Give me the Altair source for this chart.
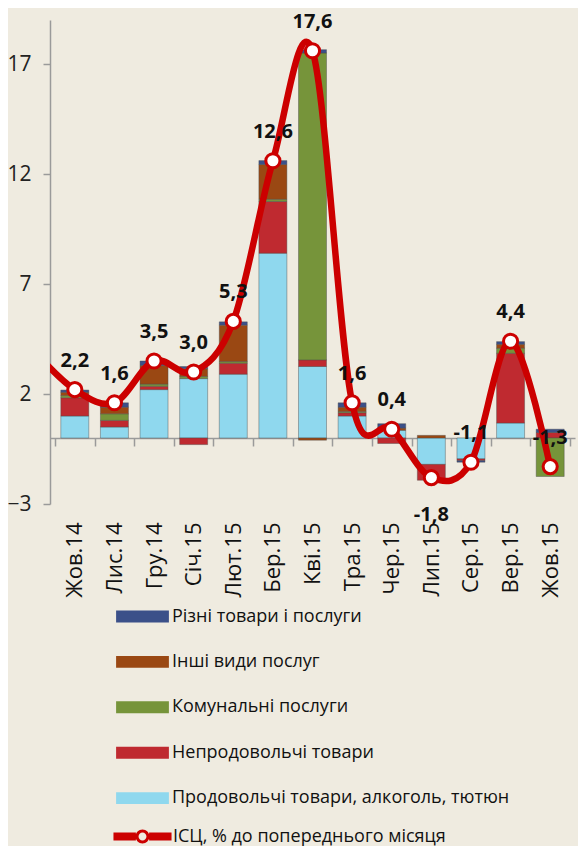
import json
import altair as alt
import pandas as pd

# ---------------- data ----------------
months = ["Жов.14", "Лис.14", "Гру.14", "Січ.15", "Лют.15", "Бер.15", "Кві.15",
          "Тра.15", "Чер.15", "Лип.15", "Сер.15", "Вер.15", "Жов.15"]

series = ["Різні товари і послуги", "Інші види послуг", "Комунальні послуги",
          "Непродовольчі товари", "Продовольчі товари, алкоголь, тютюн"]
colors = ["#3B5089", "#9A4813", "#76943A", "#BF2A30", "#8FD8EE"]

food    = [1.00, 0.50, 2.20, 2.70, 2.90, 8.40, 3.25, 1.00, 0.35, -1.20, -0.95, 0.68, 0.00]
nonfood = [0.83, 0.30, 0.15, -0.30, 0.50, 2.35, 0.30, 0.15, -0.25, -0.72, -0.08, 3.17, 0.25]
utility = [0.10, 0.30, 0.10, 0.10, 0.08, 0.10, 13.95, 0.05, 0.00, 0.00, 0.00, 0.23, -1.75]
other   = [0.15, 0.30, 0.85, 0.35, 1.65, 1.58, -0.10, 0.20, 0.10, 0.12, 0.00, 0.18, 0.00]
misc    = [0.10, 0.20, 0.20, 0.10, 0.15, 0.18, 0.15, 0.20, 0.20, 0.00, -0.07, 0.12, 0.15]

cpi = [2.2, 1.6, 3.5, 3.0, 5.3, 12.6, 17.6, 1.6, 0.4, -1.8, -1.1, 4.4, -1.3]
cpi_labels = ["2,2", "1,6", "3,5", "3,0", "5,3", "12,6", "17,6", "1,6", "0,4", "-1,8", "-1,1", "4,4", "-1,3"]
label_side = ["above"] * 9 + ["below"] + ["above"] * 3
cpi_prev = 3.9          # month before the first one, only its line segment shows
cpi_name = "ІСЦ, % до попереднього місяця"

# ---------------- tables ----------------
stack_vals = [food, nonfood, utility, other, misc]
stack_names = [series[4], series[3], series[2], series[1], series[0]]
rows = []
for order, (name, vals) in enumerate(zip(stack_names, stack_vals)):
    for i, v in enumerate(vals):
        if v != 0:
            rows.append({"idx": i, "series": name, "value": v, "ord": order})
bars_df = pd.DataFrame(rows)

line_df = pd.DataFrame({"idx": [-1] + list(range(len(cpi))),
                        "cpi": [cpi_prev] + cpi,
                        "name": cpi_name})
pts_df = pd.DataFrame({"idx": list(range(len(cpi))), "cpi": cpi,
                       "lab": cpi_labels, "side": label_side})

# ---------------- scales ----------------
W, H = 525, 484
ymin, ymax = -3, 19
xscale = alt.Scale(domain=[-0.5, len(months) - 0.5], nice=False, zero=False)
yscale = alt.Scale(domain=[ymin, ymax], nice=False, zero=False)
zero_offset = -H * (0 - ymin) / (ymax - ymin)

FONT = "Open Sans"
label_expr = json.dumps(months, ensure_ascii=False) + "[datum.value]"

x_labels_axis = alt.Axis(values=list(range(len(months))), labelExpr=label_expr,
                         orient="bottom", labelAngle=-90, ticks=False, domain=False,
                         grid=False, labelPadding=18, labelFontSize=22, labelFont=FONT,
                         labelColor="#111", title=None)
x_ticks_axis = alt.Axis(values=[i - 0.5 for i in range(len(months) + 1)], labels=False,
                        orient="bottom", offset=zero_offset, ticks=True, tickSize=8,
                        tickColor="#9a9a9a", tickWidth=1.5, domain=True,
                        domainColor="#9a9a9a", domainWidth=1.5, grid=False, title=None)
y_axis = alt.Axis(values=[-3, 2, 7, 12, 17], orient="left", tickSize=7, tickColor="#9a9a9a",
                  tickWidth=1.5, domainColor="#9a9a9a", domainWidth=1.5, grid=False,
                  labelFont=FONT, labelFontSize=21, labelColor="#222", labelPadding=12,
                  title=None)

bar_symbol = "M-1.6,-0.36H1.6V0.36H-1.6Z"
line_symbol = ("M-1.76,-0.24H-0.4V0.24H-1.76Z M0.4,-0.24H1.76V0.24H0.4Z "
               "M0.42,0 A0.42,0.42 0 1,1 -0.42,0 A0.42,0.42 0 1,1 0.42,0 Z "
               "M0.24,0 A0.24,0.24 0 1,0 -0.24,0 A0.24,0.24 0 1,0 0.24,0 Z")

bars = alt.Chart(bars_df).mark_bar(size=28, stroke="#4a4a4a", strokeWidth=0.6,
                                   strokeOpacity=0.7).encode(
    x=alt.X("idx:Q", scale=xscale, axis=x_ticks_axis),
    y=alt.Y("value:Q", stack="zero", scale=yscale, axis=y_axis),
    color=alt.Color("series:N", scale=alt.Scale(domain=series, range=colors),
                    legend=alt.Legend(orient="none", legendX=76, legendY=580, title=None,
                                      symbolType=bar_symbol, symbolSize=1089,
                                      symbolStrokeWidth=0, labelFont=FONT, labelFontSize=18,
                                      labelColor="#111", rowPadding=19.4, labelOffset=13,
                                      labelLimit=0, symbolLimit=0)),
    order=alt.Order("ord:Q"),
)

line = alt.Chart(line_df).mark_line(interpolate="cardinal", strokeWidth=6.5, clip=True).encode(
    x=alt.X("idx:Q", scale=xscale, axis=x_labels_axis),
    y=alt.Y("cpi:Q", scale=yscale),
    stroke=alt.Stroke("name:N", scale=alt.Scale(range=["#CC0000"]),
                      legend=alt.Legend(orient="none", legendX=76, legendY=800, title=None,
                                        symbolType=line_symbol, symbolSize=1089,
                                        symbolFillColor="#CC0000", symbolStrokeWidth=0,
                                        labelFont=FONT, labelFontSize=18, labelColor="#111",
                                        labelOffset=14, labelLimit=0)),
)

points = alt.Chart(pts_df).mark_circle(size=200, color="white", opacity=1, stroke="#CC0000",
                                       strokeWidth=3).encode(
    x=alt.X("idx:Q", scale=xscale, axis=None), y=alt.Y("cpi:Q", scale=yscale))

labels_above = alt.Chart(pts_df).transform_filter(alt.datum.side == "above").mark_text(
    font=FONT, fontSize=20, fontWeight="bold", color="#111", dy=-29, baseline="middle").encode(
    x=alt.X("idx:Q", scale=xscale, axis=None), y=alt.Y("cpi:Q", scale=yscale), text="lab:N")
labels_below = alt.Chart(pts_df).transform_filter(alt.datum.side == "below").mark_text(
    font=FONT, fontSize=20, fontWeight="bold", color="#111", dy=37, baseline="middle").encode(
    x=alt.X("idx:Q", scale=xscale, axis=None), y=alt.Y("cpi:Q", scale=yscale), text="lab:N")

chart = alt.layer(bars, line, points, labels_above, labels_below).resolve_axis(
    x="independent").properties(
    width=W, height=H, background="#EFEBE0",
    autosize=alt.AutoSizeParams(type="none"),
    padding={"left": 42, "top": 12, "right": 3, "bottom": 342},
).configure_view(stroke=None)

chart.save("out.html", embed_options={"renderer": "svg", "actions": False})
